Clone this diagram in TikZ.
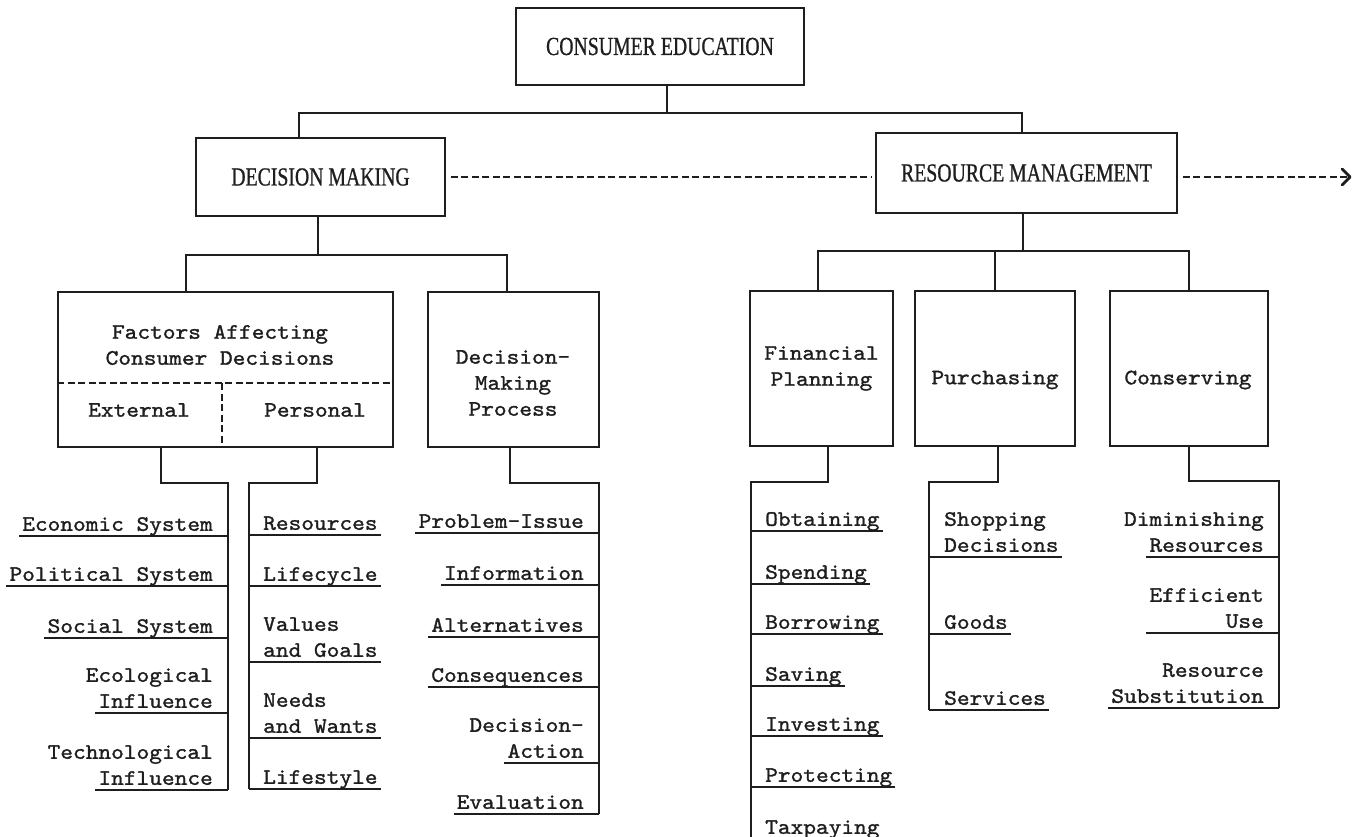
\documentclass[tikz,border=0pt]{standalone}
\usepackage{fontspec}
\usepackage{tikz}
\usetikzlibrary{arrows.meta, calc, positioning}
\newfontfamily\typefont{lmmono10-regular.otf}[FakeStretch=1.1, FakeBold=1.3]
\newfontfamily\capsfont{Liberation Serif}[FakeStretch=0.76, FakeBold=0.8]
\definecolor{ink}{HTML}{1e1e1e}

\tikzset{
	wire/.style={draw=ink, line width=1.5pt},
	link/.style={wire, dash pattern=on 7pt off 3.5pt},
	box/.style={wire, inner sep=0pt, align=center, text=ink, font={\typefont\fontsize{22}{26}\selectfont}},
	head/.style={box, font={\capsfont\fontsize{26}{28}\selectfont}},
	lbl/.style={inner sep=0pt, align=center, text=ink, font={\typefont\fontsize{22}{26}\selectfont}},
	item/.style={inner xsep=3pt, inner ysep=0pt, text depth=5pt, text=ink, font={\typefont\fontsize{22}{26}\selectfont}},
	itemL/.style={item, align=right, anchor=south east},
	itemR/.style={item, align=left, anchor=south west},
	itemtop/.style={item, anchor=base east}
}

\begin{document}
\begin{tikzpicture}[x=1pt, y=-1pt]
	\useasboundingbox (0, 0) rectangle (1356, 837);

	\node[head, minimum width=288pt, minimum height=77pt] (ce) at (660, 46.5) {CONSUMER EDUCATION};
	\node[head, minimum width=249pt, minimum height=78pt] (dm) at (320.5, 177) {DECISION MAKING};
	\node[head, minimum width=301pt, minimum height=80pt] (rm) at (1026.5, 173) {RESOURCE MANAGEMENT};

	\coordinate (ceJ) at (667, 113);
	\draw[wire] (ce.south -| ceJ) -- (ceJ);
	\draw[wire] ([xshift=-21.5pt]dm.north) |- (ceJ) -| ([xshift=-4.5pt]rm.north);

	\draw[link] ([xshift=5pt]dm.east) -- ([xshift=-4pt]rm.west |- dm.east);
	\coordinate (onward) at (1350, 177);
	\draw[link] ($(rm.east |- onward) + (5, 0)$) -- ($(onward) + (-2, 0)$);
	\draw[wire, line width=2.8pt, line cap=round, line join=round] ($(onward) + (-8, -8)$) -- (onward) -- ($(onward) + (-8, 8)$);

	% decision making side
	\node[box, minimum width=335pt, minimum height=155pt] (fac) at (225.5, 369.5) {};
	\node[box, minimum width=171pt, minimum height=155pt] (dmp) at (513.5, 369.5) {};
	\node[lbl] (facT) at (220, 345) {Factors Affecting\\Consumer Decisions};
	\node[lbl] (ext) at (139, 410) {External};
	\node[lbl] (per) at (315, 410) {Personal};
	\node[lbl] (dmpT) at (513, 383) {Decision-\\Making\\Process};

	\coordinate (split) at (222, 383);
	\draw[link] (fac.west |- split) -- (fac.east |- split);
	\draw[link] (split) -- (split |- fac.south);

	\coordinate (dmJ) at (318, 255);
	\draw[wire] (dm.south -| dmJ) -- (dmJ);
	\draw[wire] ([xshift=-39.5pt]fac.north) |- (dmJ) -| ([xshift=-6.5pt]dmp.north);

	\node[itemL] (eco) at (216, 536) {Economic System};
	\node[itemL] (pol) at (216, 586) {Political System};
	\node[itemL] (soc) at (216, 638) {Social System};
	\node[itemL] (ecol) at (216, 713) {Influence};
	\node[itemtop] (ecolUp) at ([yshift=26pt]ecol.base east) {Ecological};
	\node[itemL] (tech) at (216, 790) {Influence};
	\node[itemtop] (techUp) at ([yshift=26pt]tech.base east) {Technological};

	\coordinate (extJ) at (228, 483);
	\draw[wire] ([xshift=-64.5pt]fac.south) |- (extJ) -- (extJ |- tech.south);
	\draw[wire] (eco.south west) -- (eco.south west -| extJ);
	\draw[wire] (pol.south west) -- (pol.south west -| extJ);
	\draw[wire] (soc.south west) -- (soc.south west -| extJ);
	\draw[wire] (ecol.south west) -- (ecol.south west -| extJ);
	\draw[wire] (tech.south west) -- (tech.south west -| extJ);

	\node[itemR] (res) at (260, 535) {Resources};
	\node[itemR] (lcyc) at (260, 586) {Lifecycle};
	\node[itemR] (val) at (260, 662) {Values\\and Goals};
	\node[itemR] (need) at (260, 738) {Needs\\and Wants};
	\node[itemR] (lsty) at (260, 789) {Lifestyle};

	\coordinate (perJ) at (249, 483);
	\draw[wire] ([xshift=91.5pt]fac.south) |- (perJ) -- (perJ |- lsty.south);
	\draw[wire] (res.south east) -- (res.south east -| perJ);
	\draw[wire] (lcyc.south east) -- (lcyc.south east -| perJ);
	\draw[wire] (val.south east) -- (val.south east -| perJ);
	\draw[wire] (need.south east) -- (need.south east -| perJ);
	\draw[wire] (lsty.south east) -- (lsty.south east -| perJ);

	\node[itemL] (prob) at (587, 533) {Problem-Issue};
	\node[itemL] (info) at (587, 585) {Information};
	\node[itemL] (alt) at (587, 637) {Alternatives};
	\node[itemL] (conseq) at (587, 687) {Consequences};
	\node[itemL] (dact) at (587, 763) {Action};
	\node[itemtop] (dactUp) at ([yshift=26pt]dact.base east) {Decision-};
	\node[itemL] (eval) at (587, 814) {Evaluation};

	\coordinate (dmpJ) at (599, 483);
	\draw[wire] ([xshift=-3.5pt]dmp.south) |- (dmpJ) -- (dmpJ |- eval.south);
	\draw[wire] (prob.south west) -- (prob.south west -| dmpJ);
	\draw[wire] (info.south west) -- (info.south west -| dmpJ);
	\draw[wire] (alt.south west) -- (alt.south west -| dmpJ);
	\draw[wire] (conseq.south west) -- (conseq.south west -| dmpJ);
	\draw[wire] (dact.south west) -- (dact.south west -| dmpJ);
	\draw[wire] (eval.south west) -- (eval.south west -| dmpJ);

	% resource management side
	\node[box, minimum width=143pt, minimum height=155pt] (fp) at (821.5, 368.5) {Financial\\Planning};
	\node[box, minimum width=160pt, minimum height=155pt] (pur) at (995, 368.5) {};
	\node[box, minimum width=158pt, minimum height=155pt] (con) at (1189, 368.5) {};
	\node[lbl] (purT) at (995, 380) {Purchasing};
	\node[lbl] (conT) at (1188, 380) {Conserving};

	\coordinate (rmJ) at (1023, 251);
	\draw[wire] (rm.south -| rmJ) -- (rmJ);
	\draw[wire] ([xshift=-3.5pt]fp.north) |- (rmJ) -| (con.north);
	\draw[wire] (pur.north) -- (pur.north |- rmJ);

	\node[itemR] (obt) at (762, 531) {Obtaining};
	\node[itemR] (spend) at (762, 584) {Spending};
	\node[itemR] (borr) at (762, 634) {Borrowing};
	\node[itemR] (sav) at (762, 686) {Saving};
	\node[itemR] (inv) at (762, 736) {Investing};
	\node[itemR] (prot) at (762, 787) {Protecting};
	\node[itemR] (tax) at (762, 839) {Taxpaying};

	\coordinate (fpJ) at (751, 482);
	\draw[wire] ([xshift=6.5pt]fp.south) |- (fpJ) -- (fpJ |- tax.south);
	\draw[wire] (obt.south east) -- (obt.south east -| fpJ);
	\draw[wire] (spend.south east) -- (spend.south east -| fpJ);
	\draw[wire] (borr.south east) -- (borr.south east -| fpJ);
	\draw[wire] (sav.south east) -- (sav.south east -| fpJ);
	\draw[wire] (inv.south east) -- (inv.south east -| fpJ);
	\draw[wire] (prot.south east) -- (prot.south east -| fpJ);

	\node[itemR] (shop) at (941, 557) {Shopping\\Decisions};
	\node[itemR] (goods) at (941, 634) {Goods};
	\node[itemR] (serv) at (941, 710) {Services};

	\coordinate (purJ) at (929, 482);
	\draw[wire] ([xshift=3pt]pur.south) |- (purJ) -- (purJ |- serv.south);
	\draw[wire] (shop.south east) -- (shop.south east -| purJ);
	\draw[wire] (goods.south east) -- (goods.south east -| purJ);
	\draw[wire] (serv.south east) -- (serv.south east -| purJ);

	\node[itemL] (dim) at (1267, 557) {Resources};
	\node[itemtop] (dimUp) at ([yshift=26pt]dim.base east) {Diminishing};
	\node[itemL] (eff) at (1267, 633) {Efficient\\Use};
	\node[itemL] (subst) at (1267, 708) {Resource\\Substitution};

	\coordinate (conJ) at (1279, 481);
	\draw[wire] (con.south) |- (conJ) -- (conJ |- subst.south);
	\draw[wire] (dim.south west) -- (dim.south west -| conJ);
	\draw[wire] (eff.south west) -- (eff.south west -| conJ);
	\draw[wire] (subst.south west) -- (subst.south west -| conJ);
\end{tikzpicture}
\end{document}
